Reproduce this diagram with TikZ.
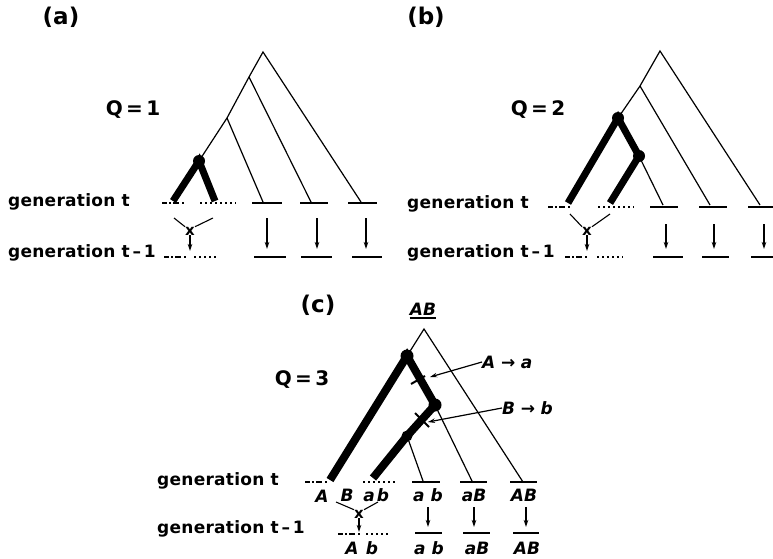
\documentclass[tikz,border=0pt]{standalone}
\usepackage{fontspec}
\setmainfont{DejaVu Sans}
\newfontfamily\genfont[LetterSpace=1.5]{DejaVu Sans}
\usetikzlibrary{arrows.meta}
\tikzset{
  thin line/.style={line width=1.2pt},
  thick line/.style={line width=7pt},
  dotnode/.style={circle,fill=black,inner sep=0pt,minimum size=12pt},
  gentext/.style={font=\genfont\bfseries\fontsize{17}{17}\selectfont,anchor=base west,inner sep=0pt},
  panel/.style={font=\bfseries\fontsize{23}{23}\selectfont,inner sep=0pt},
  qtext/.style={font=\bfseries\fontsize{20}{20}\selectfont,inner sep=0pt},
  leafline/.style={line width=1.3pt},
  genline/.style={line width=1.3pt,dash pattern=on 5pt off 2pt on 2pt off 2pt on 6pt off 3pt on 2pt off 200pt},
  dotline/.style={line width=1.8pt,dash pattern=on 2pt off 3pt},
  crossline/.style={line width=1.1pt},
  darrow/.style={line width=1.2pt,-{Stealth[length=7pt,width=4.5pt]}},
  allele/.style={font=\bfseries\itshape\fontsize{17}{17}\selectfont,inner sep=0pt},
  leaflab/.style={allele,anchor=base},
  xmark/.style={font=\bfseries\fontsize{15}{15}\selectfont,inner sep=0pt},
}
\begin{document}
\begin{tikzpicture}[x=1pt,y=-1pt]
\useasboundingbox (0,0) rectangle (773,559);
% ================= (a) =================
\node[panel] (pa) at (61,17) {(a)};
\node[qtext] (qa) at (133,110) {Q\,=\,1};
\node[gentext] (ga1) at (8,206) {generation t};
\node[gentext] (ga2) at (8,257) {generation t\,–\,1};
\coordinate (aR) at (263,52);
\coordinate (aN1) at (249,77);
\coordinate (aN2) at (227,118);
\node[dotnode] (aD) at (199,161) {};
\coordinate (aL1) at (173,201);
\coordinate (aL2) at (215,201);
\coordinate (aT3) at (263,202);
\coordinate (aT4) at (311,202);
\coordinate (aT5) at (361,202);
\draw[thin line] (aD.center) -- (aN2) -- (aN1) -- (aR) -- (aT5);
\draw[thin line] (aN1) -- (aT4);
\draw[thin line] (aN2) -- (aT3);
\draw[thick line] (aL1) -- (aD.center) -- (aL2);
% gen t lines
\coordinate (aG0) at (162,203);
\coordinate (aG1) at (190,203);
\coordinate (aG2) at (200,203);
\coordinate (aG3) at (236,203);
\draw[genline] (aG0) -- (aG1);
\draw[dotline] (aG2) -- (aG3);
\draw[leafline] (252,203) coordinate (a3l) -- (282,203) coordinate (a3r);
\draw[leafline] (300,203) coordinate (a4l) -- (328,203) coordinate (a4r);
\draw[leafline] (348,203) coordinate (a5l) -- (377,203) coordinate (a5r);
% cross
\node[xmark] (ax) at (190,231) {x};
\coordinate (ac1) at (174,218);
\coordinate (ac2) at (213,218);
\draw[crossline] (ac1) -- (ax.north west);
\draw[crossline] (ac2) -- (ax.north east);
\coordinate (axb) at (190,251);
\draw[darrow] (ax.south) -- (axb);
\coordinate (aH0) at (164,257);
\coordinate (aH1) at (190,257);
\coordinate (aH2) at (194,257);
\coordinate (aH3) at (218,257);
\draw[genline] (aH0) -- (aH1);
\draw[dotline] (aH2) -- (aH3);
% arrows
\coordinate (aA3) at (267,218); \coordinate (aB3) at (267,249);
\coordinate (aA4) at (317,218); \coordinate (aB4) at (317,249);
\coordinate (aA5) at (366,218); \coordinate (aB5) at (366,249);
\draw[darrow] (aA3) -- (aB3);
\draw[darrow] (aA4) -- (aB4);
\draw[darrow] (aA5) -- (aB5);
\draw[leafline] (254,257) coordinate (a3m) -- (286,257) coordinate (a3n);
\draw[leafline] (301,257) coordinate (a4m) -- (332,257) coordinate (a4n);
\draw[leafline] (352,257) coordinate (a5m) -- (382,257) coordinate (a5n);

% ================= (b) =================
\node[panel] (pb) at (426,17) {(b)};
\node[qtext] (qb) at (538,110) {Q\,=\,2};
\node[gentext] (gb1) at (407,208) {generation t};
\node[gentext] (gb2) at (407,257) {generation t\,–\,1};
\coordinate (bR) at (660,51);
\coordinate (bN1) at (640,86);
\node[dotnode] (bD1) at (618,118) {};
\node[dotnode] (bD2) at (639,156) {};
\coordinate (bL1) at (568,203);
\coordinate (bL2) at (610,203);
\coordinate (bT3) at (663,205);
\coordinate (bT4) at (710,205);
\coordinate (bT5) at (760,205);
\draw[thin line] (bD1.center) -- (bN1) -- (bR) -- (bT5);
\draw[thin line] (bN1) -- (bT4);
\draw[thin line] (bD2.center) -- (bT3);
\draw[thick line] (bL1) -- (bD1.center) -- (bD2.center) -- (bL2);
\coordinate (bG0) at (548,207);
\coordinate (bG1) at (580,207);
\coordinate (bG2) at (598,207);
\coordinate (bG3) at (634,207);
\draw[genline] (bG0) -- (bG1);
\draw[dotline] (bG2) -- (bG3);
\draw[leafline] (650,207) -- (678,207);
\draw[leafline] (699,207) -- (727,207);
\draw[leafline] (748,207) -- (773,207);
\node[xmark] (bx) at (587,231) {x};
\coordinate (bc1) at (570,214);
\coordinate (bc2) at (610,214);
\draw[crossline] (bc1) -- (bx.north west);
\draw[crossline] (bc2) -- (bx.north east);
\coordinate (bxb) at (587,251);
\draw[darrow] (bx.south) -- (bxb);
\coordinate (bH0) at (565,257);
\coordinate (bH1) at (592,257);
\coordinate (bH2) at (597,257);
\coordinate (bH3) at (623,257);
\draw[genline] (bH0) -- (bH1);
\draw[dotline] (bH2) -- (bH3);
\coordinate (bA3) at (666,224); \coordinate (bB3) at (666,249);
\coordinate (bA4) at (714,224); \coordinate (bB4) at (714,249);
\coordinate (bA5) at (764,224); \coordinate (bB5) at (764,249);
\draw[darrow] (bA3) -- (bB3);
\draw[darrow] (bA4) -- (bB4);
\draw[darrow] (bA5) -- (bB5);
\draw[leafline] (653,257) -- (683,257);
\draw[leafline] (702,257) -- (729,257);
\draw[leafline] (751,257) -- (773,257);

% ================= (c) =================
\node[panel] (pc) at (318,305) {(c)};
\node[qtext] (qc) at (302,380) {Q\,=\,3};
\node[gentext] (gc1) at (157,485) {generation t};
\node[gentext] (gc2) at (157,533) {generation t\,–\,1};
\node[allele,anchor=south] (cAB) at (423,316) {AB};
\draw[line width=1.2pt] ([yshift=-2pt]cAB.south west) -- ([yshift=-2pt]cAB.south east);
\coordinate (cR) at (424,329);
\node[dotnode,minimum size=13pt] (cD1) at (407,356) {};
\node[dotnode,minimum size=13pt] (cD2) at (435,405) {};
\node[dotnode,minimum size=11pt] (cD3) at (407,436) {};
\coordinate (cL1) at (330,480);
\coordinate (cL2) at (373,478);
\coordinate (cT3) at (423,481);
\coordinate (cT4) at (472,481);
\coordinate (cT5) at (523,482);
\draw[thin line] (cD1.center) -- (cR) -- (cT5);
\draw[thin line] (cD2.center) -- (cT4);
\draw[thin line] (cD3.center) -- (cT3);
\draw[line width=8pt] (cL1) -- (cD1.center) -- (cD2.center) -- (cD3.center) -- (cL2);
% mutation ticks
\coordinate (k1a) at (411,384); \coordinate (k1b) at (425,376);
\coordinate (k2a) at (415,413); \coordinate (k2b) at (429,427);
\draw[line width=2pt] (k1a) -- (k1b);
\draw[line width=2pt] (k2a) -- (k2b);
\node[allele,anchor=west] (mA) at (482,362) {A\,\,→\,\,a};
\node[allele,anchor=west] (mB) at (502,408) {B\,\,→\,\,b};
\coordinate (mAt) at (430,377);
\coordinate (mBt) at (428,422);
\draw[darrow] (mA.west) -- (mAt);
\draw[darrow] (mB.west) -- (mBt);
% gen t
\coordinate (cG0) at (305,482);
\coordinate (cG1) at (347,482);
\coordinate (cG2) at (363,482);
\coordinate (cG3) at (396,482);
\draw[genline] (cG0) -- (cG1);
\draw[dotline] (cG2) -- (cG3);
\draw[leafline] (412,482) -- (440,482);
\draw[leafline] (460,482) -- (487,482);
\draw[leafline] (510,482) -- (537,482);
\node[leaflab] (cA1) at (322,502) {A};
\node[leaflab] (cB1) at (347,501) {B};
\node[leaflab] (ca1) at (369,501) {a};
\node[leaflab] (cb1) at (383,501) {b};
\node[leaflab] (cab) at (428,501) {a b};
\node[leaflab] (caB) at (474,501) {aB};
\node[leaflab] (cAB2) at (524,501) {AB};
% cross
\node[xmark] (cx) at (359,514) {x};
\coordinate (cc1) at (336,502);
\coordinate (cc2) at (378,502);
\draw[crossline] (cc1) -- (cx.north west);
\draw[crossline] (cc2) -- (cx.north east);
\coordinate (cxb) at (359,532);
\draw[darrow] (cx.south) -- (cxb);
\coordinate (cH0) at (338,534);
\coordinate (cH1) at (362,534);
\coordinate (cH2) at (366,534);
\coordinate (cH3) at (390,534);
\draw[genline] (cH0) -- (cH1);
\draw[dotline] (cH2) -- (cH3);
\coordinate (cA3) at (428,507); \coordinate (cB3) at (428,527);
\coordinate (cA4) at (474,507); \coordinate (cB4) at (474,527);
\coordinate (cA5) at (526,507); \coordinate (cB5) at (526,527);
\draw[darrow] (cA3) -- (cB3);
\draw[darrow] (cA4) -- (cB4);
\draw[darrow] (cA5) -- (cB5);
\draw[leafline] (415,533) -- (442,533);
\draw[leafline] (463,533) -- (490,533);
\draw[leafline] (513,533) -- (539,533);
\node[leaflab] (cA2) at (352,554) {A};
\node[leaflab] (cb2) at (372,554) {b};
\node[leaflab] (cab2) at (429,554) {a b};
\node[leaflab] (caB2) at (477,554) {aB};
\node[leaflab] (cAB3) at (527,554) {AB};
\end{tikzpicture}
\end{document}
